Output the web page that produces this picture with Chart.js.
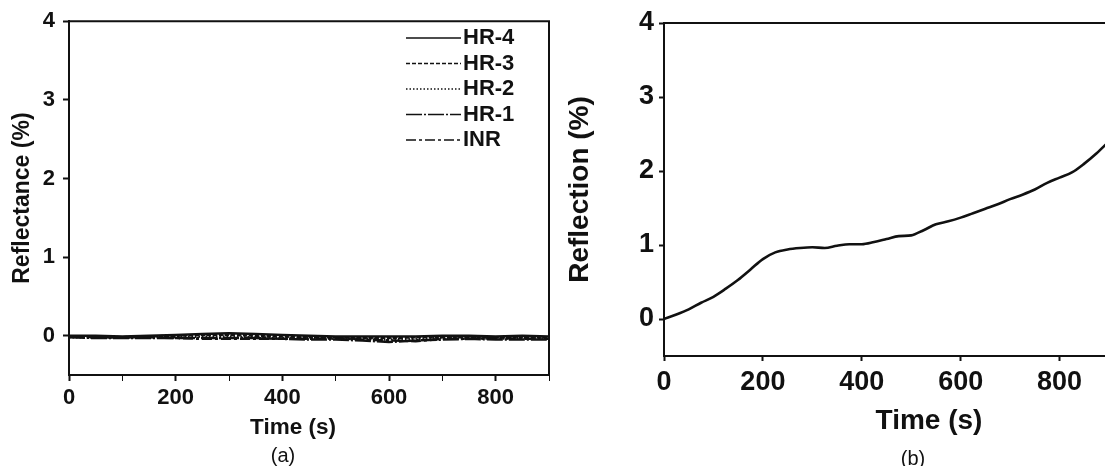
<!DOCTYPE html>
<html>
<head>
<meta charset="utf-8">
<script src="https://cdn.jsdelivr.net/npm/chart.js@4.4.1/dist/chart.umd.min.js"></script>
<style>
  html, body { margin: 0; padding: 0; background: #fff; }
  #wrap { position: relative; width: 1105px; height: 466px; overflow: hidden; background: #fff; }
  canvas { position: absolute; top: 0; }
  .cap { position: absolute; transform: translate(-50%, -50%); font-family: "Liberation Sans", Arial, sans-serif; color: #111; white-space: nowrap; }
  .bold { font-weight: bold; }
</style>
</head>
<body>
<div id="wrap">
  <canvas id="chartA" width="560" height="466" style="left:0"></canvas>
  <canvas id="chartB" width="560" height="466" style="left:560px"></canvas>
  <div class="cap bold" style="left:293px;top:427px;font-size:22.5px">Time (s)</div>
  <div class="cap" style="left:283px;top:455px;font-size:20px">(a)</div>
  <div class="cap bold" style="left:929px;top:420px;font-size:28px">Time (s)</div>
  <div class="cap" style="left:913px;top:458px;font-size:20px">(b)</div>
</div>
<script>
// panel (a): reflectance of the five samples, every 50 s
const timeA = [0, 50, 100, 150, 200, 250, 300, 350, 400, 450, 500, 550, 600, 650, 700, 750, 800, 850, 900];
const hr4 = [0.00, 0.00, -0.01, 0.00, 0.01, 0.02, 0.03, 0.02, 0.01, 0.00, -0.01, -0.01, -0.01, -0.01, 0.00, 0.00, -0.01, 0.00, -0.01];
const hr3 = [-0.01, -0.01, -0.02, -0.01, 0.00, 0.01, 0.01, 0.00, -0.01, -0.02, -0.02, -0.03, -0.03, -0.02, -0.02, -0.02, -0.02, -0.02, -0.02];
const hr2 = [-0.02, -0.02, -0.02, -0.02, -0.02, -0.01, -0.01, -0.02, -0.03, -0.03, -0.04, -0.04, -0.05, -0.04, -0.03, -0.03, -0.04, -0.03, -0.03];
const hr1 = [-0.02, -0.03, -0.03, -0.03, -0.03, -0.03, -0.03, -0.03, -0.04, -0.05, -0.05, -0.06, -0.08, -0.06, -0.05, -0.04, -0.05, -0.05, -0.05];
const inr = [-0.01, -0.02, -0.02, -0.02, -0.03, -0.04, -0.04, -0.04, -0.04, -0.04, -0.03, -0.05, -0.06, -0.07, -0.04, -0.04, -0.03, -0.04, -0.04];

// panel (b): reflection, every 25 s
const timeB = [0, 25, 50, 75, 100, 125, 150, 175, 200, 225, 250, 275, 300, 325, 350, 375, 400, 425, 450,
  475, 500, 525, 550, 575, 600, 625, 650, 675, 700, 725, 750, 775, 800, 825, 850, 875, 900];
const reflection = [0.00, 0.06, 0.13, 0.22, 0.30, 0.41, 0.53, 0.67, 0.81, 0.90, 0.94, 0.96, 0.97, 0.96, 0.99, 1.01, 1.01, 1.04, 1.08,
  1.12, 1.13, 1.20, 1.28, 1.32, 1.37, 1.43, 1.49, 1.55, 1.62, 1.68, 1.75, 1.84, 1.91, 1.98, 2.10, 2.24, 2.40];

// tick values
const yTicks = [0, 1, 2, 3, 4];
const xTicksA = [0, 100, 200, 300, 400, 500, 600, 700, 800, 900];
const xTicksB = [0, 200, 400, 600, 800];

const FONT = "'Liberation Sans', Arial, sans-serif";
const INK = "#111";

const toPoints = (xs, ys) => xs.map((x, i) => ({ x, y: ys[i] }));

const framePlugin = {
    id: "frame",
    afterDatasetsDraw(chart) {
        const { ctx, chartArea: { left, top, right, bottom } } = chart;
        ctx.save();
        ctx.strokeStyle = INK;
        ctx.lineWidth = 2;
        ctx.beginPath();
        ctx.moveTo(left, top);
        ctx.lineTo(right, top);
        ctx.lineTo(right, bottom);
        ctx.stroke();
        ctx.restore();
    }
};

// legend drawn inside the plot, line sample then label
const insideLegend = {
    id: "insideLegend",
    afterDraw(chart, args, opts) {
        if (!opts || !opts.show) return;
        const { ctx } = chart;
        ctx.save();
        ctx.font = `bold ${opts.size}px ${FONT}`;
        ctx.textBaseline = "middle";
        ctx.fillStyle = INK;
        chart.data.datasets.forEach((ds, i) => {
            const y = opts.y + i * opts.gap;
            ctx.strokeStyle = INK;
            ctx.lineWidth = 1.6;
            ctx.setLineDash(ds.borderDash || []);
            ctx.beginPath();
            ctx.moveTo(opts.x, y);
            ctx.lineTo(opts.x + opts.len, y);
            ctx.stroke();
            ctx.setLineDash([]);
            ctx.fillText(ds.label, opts.x + opts.len + 2, y);
        });
        ctx.restore();
    }
};

const lineSet = (label, xs, ys, dash, width, smooth) => ({
    label,
    data: toPoints(xs, ys),
    borderColor: INK,
    backgroundColor: INK,
    borderWidth: width,
    borderDash: dash,
    pointRadius: 0,
    tension: smooth ? 0.4 : 0,
    cubicInterpolationMode: smooth ? "monotone" : "default",
    fill: false
});

const axisY = (width, tickSize, tickLen, tickPad, title, titleSize, titlePad) => ({
    type: "linear",
    min: -0.5,
    max: 4,
    afterBuildTicks: (s) => { s.ticks = yTicks.map((v) => ({ value: v })); },
    afterFit: (s) => { s.width = width; },
    border: { display: true, color: INK, width: 2 },
    grid: { display: true, drawOnChartArea: false, drawTicks: true, tickLength: tickLen, color: INK, tickWidth: 2 },
    ticks: { color: INK, padding: tickPad, font: { family: FONT, size: tickSize, weight: "bold" } },
    title: { display: true, text: title, color: INK, font: { family: FONT, size: titleSize, weight: "bold" }, padding: { top: titlePad, bottom: 0 } }
});

const axisX = (ticksArr, height, tickSize, tickLen, tickPad) => ({
    type: "linear",
    min: 0,
    max: 900,
    afterBuildTicks: (s) => { s.ticks = ticksArr.map((v) => ({ value: v })); },
    afterFit: (s) => { s.height = height; },
    border: { display: true, color: INK, width: 2 },
    grid: {
        display: true, drawOnChartArea: false, drawTicks: true, tickLength: tickLen, color: INK,
        tickWidth: (c) => (c.tick && c.tick.value % 200 === 0 ? 2 : 1)
    },
    ticks: {
        autoSkip: false, maxRotation: 0, color: INK, padding: tickPad,
        font: { family: FONT, size: tickSize, weight: "bold" },
        callback: (v) => (v % 200 === 0 ? String(v) : "")
    }
});

new Chart(document.getElementById("chartA"), {
    type: "line",
    data: {
        datasets: [
            lineSet("HR-4", timeA, hr4, [], 2.5),
            lineSet("HR-3", timeA, hr3, [4, 2], 2.5),
            lineSet("HR-2", timeA, hr2, [1.5, 2], 2.5),
            lineSet("HR-1", timeA, hr1, [16, 2, 2, 2], 2.5),
            lineSet("INR", timeA, inr, [10, 3, 3, 3], 2.5)
        ]
    },
    options: {
        responsive: false,
        animation: false,
        layout: { autoPadding: false, padding: { left: 0, right: 11, top: 18, bottom: 0 } },
        scales: {
            x: axisX(xTicksA, 91, 22, 6, 4),
            y: axisY(69, 22, 6, 8, "Reflectance (%)", 23, 9)
        },
        plugins: {
            legend: { display: false },
            tooltip: { enabled: false },
            insideLegend: { show: true, x: 406, y: 38, gap: 25.5, len: 55, size: 22 }
        }
    },
    plugins: [framePlugin, insideLegend]
});

new Chart(document.getElementById("chartB"), {
    type: "line",
    data: {
        datasets: [lineSet("Reflection", timeB, reflection, [], 2.6, true)]
    },
    options: {
        responsive: false,
        animation: false,
        layout: { autoPadding: false, padding: { left: 0, right: 11, top: 23, bottom: 0 } },
        scales: {
            x: axisX(xTicksB, 110, 27, 5, 5),
            y: axisY(104, 27, 5, 5, "Reflection (%)", 28, 3)
        },
        plugins: {
            legend: { display: false },
            tooltip: { enabled: false },
            insideLegend: { show: false }
        }
    },
    plugins: [framePlugin, insideLegend]
});
</script>
</body>
</html>
